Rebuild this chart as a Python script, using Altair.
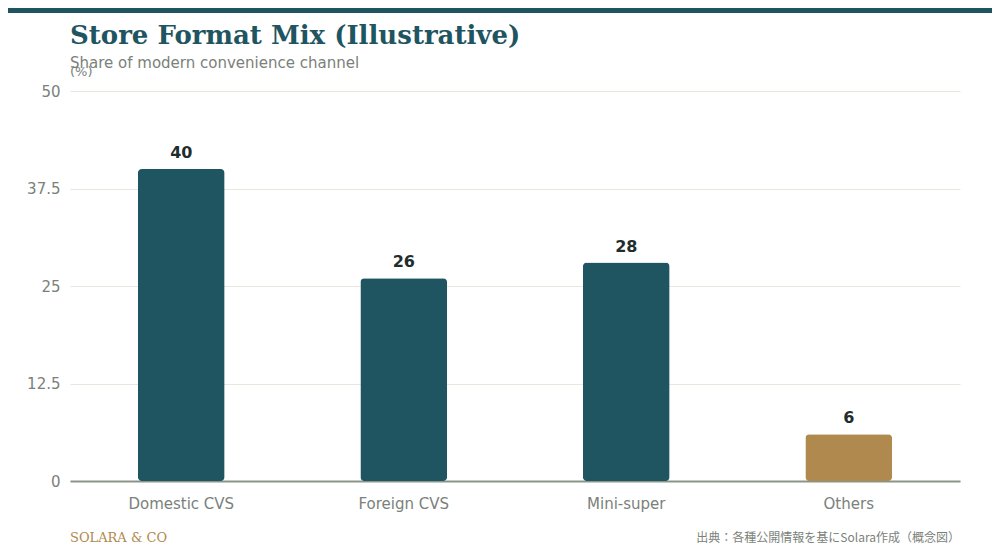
import altair as alt
import pandas as pd

categories = ["Domestic CVS", "Foreign CVS", "Mini-super", "Others"]
shares = [40, 26, 28, 6]
highlight = ["main", "main", "main", "other"]
y_ticks = [0, 12.5, 25, 37.5, 50]

TEAL = "#1f5561"
GOLD = "#b0894e"
GRAY = "#7a817a"

df = pd.DataFrame({"category": categories, "share": shares, "group": highlight})
one = pd.DataFrame({"k": [0]})

x_enc = alt.X("category:N", sort=categories, title=None,
              scale=alt.Scale(paddingInner=0.61, paddingOuter=0.305),
              axis=alt.Axis(labelAngle=0, labelFontSize=15, labelColor=GRAY,
                            labelPadding=15, ticks=False, domainColor="#8a9488",
                            domainWidth=2, labelFont="DejaVu Sans"))
y_enc = alt.Y("share:Q", title=None,
              scale=alt.Scale(domain=[0, 50], nice=False),
              axis=alt.Axis(values=y_ticks, labelExpr="'' + datum.value", labelFontSize=15,
                            labelColor=GRAY, labelPadding=10, ticks=False,
                            domain=False, gridColor="#ebe6dd", gridWidth=1,
                            labelFont="DejaVu Sans"))

bars = alt.Chart(df).mark_bar(cornerRadius=4).encode(
    x=x_enc, y=y_enc,
    color=alt.Color("group:N", scale=alt.Scale(domain=["main", "other"], range=[TEAL, GOLD]), legend=None),
)

labels = alt.Chart(df).mark_text(baseline="bottom", dy=-8, fontSize=16, fontWeight="bold",
                                 color="#1f2d2d", font="DejaVu Sans").encode(
    x=alt.X("category:N", sort=categories), y="share:Q", text="share:Q")

band = alt.Chart(one).mark_rect(color=TEAL).encode(
    x=alt.value(-62), x2=alt.value(922), y=alt.value(-83), y2=alt.value(-78))

title = alt.Chart(one).mark_text(text="Store Format Mix (Illustrative)", align="left",
                                 baseline="alphabetic", fontSize=26, fontWeight="bold",
                                 font="DejaVu Serif", color=TEAL).encode(
    x=alt.value(0), y=alt.value(-47))
subtitle = alt.Chart(one).mark_text(text="Share of modern convenience channel", align="left",
                                    baseline="middle", fontSize=15, font="DejaVu Sans",
                                    color=GRAY).encode(x=alt.value(0), y=alt.value(-28))
unit = alt.Chart(one).mark_text(text="(%)", align="left", baseline="middle", fontSize=13,
                                font="DejaVu Sans", color=GRAY).encode(
    x=alt.value(0), y=alt.value(-19))
brand = alt.Chart(one).mark_text(text="SOLARA & CO", align="left", baseline="middle",
                                 fontSize=13, font="DejaVu Serif", color=GOLD).encode(
    x=alt.value(0), y=alt.value(447))
source = alt.Chart(one).mark_text(text="出典：各種公開情報を基にSolara作成（概念図）", align="right",
                                  baseline="middle", fontSize=12, font="Noto Sans CJK JP",
                                  color=GRAY).encode(x=alt.value(890), y=alt.value(447))

chart = alt.layer(bars, labels, band, title, subtitle, unit, brand, source).properties(
    width=890, height=390,
    autosize=alt.AutoSizeParams(type="none"),
    padding={"left": 62, "top": 83, "right": 32, "bottom": 75},
    background="white",
).configure_view(stroke=None)

chart.save("out.html", embed_options={"renderer": "svg", "actions": False})
